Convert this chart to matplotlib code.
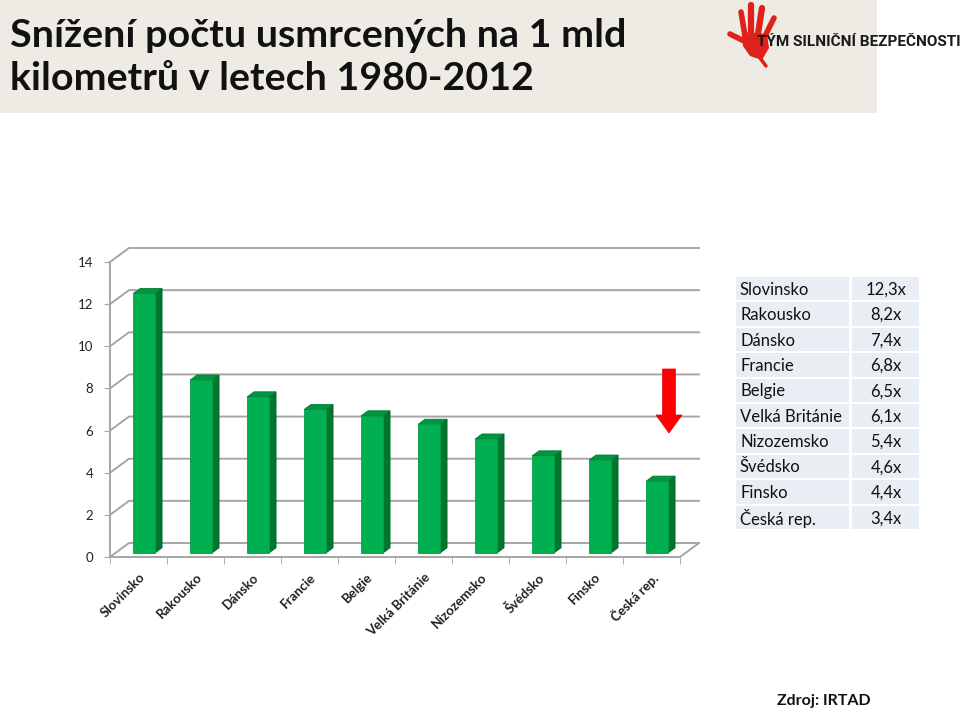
import matplotlib
matplotlib.use('Agg')
import matplotlib.pyplot as plt
from matplotlib.patches import Polygon, Rectangle, FancyArrow

plt.rcParams['font.family'] = ['Lato', 'DejaVu Sans']

countries = ['Slovinsko', 'Rakousko', 'Dánsko', 'Francie', 'Belgie',
             'Velká Británie', 'Nizozemsko', 'Švédsko', 'Finsko', 'Česká rep.']
values = [12.3, 8.2, 7.4, 6.8, 6.5, 6.1, 5.4, 4.6, 4.4, 3.4]
value_labels = ['12,3x', '8,2x', '7,4x', '6,8x', '6,5x', '6,1x', '5,4x', '4,6x', '4,4x', '3,4x']
y_ticks = [0, 2, 4, 6, 8, 10, 12, 14]

title = 'Snížení počtu usmrcených na 1 mld\nkilometrů v letech 1980-2012'
source = 'Zdroj: IRTAD'

W, H = 960, 712
fig = plt.figure(figsize=(W / 100, H / 100), dpi=100)

# main chart axes (front plane of the 3D box)
ax = fig.add_axes([110 / W, 1 - 557 / H, 570 / W, 295 / H])
ax.set_xlim(0, len(countries))
ax.set_ylim(0, 14)
for s in ax.spines.values():
    s.set_visible(False)

DX = 19 / 57      # depth offset in category units
DY = 14 / 21.07   # depth offset in value units
grid_c = '#A6A6A6'

# back wall gridlines + left wall diagonals
for v in y_ticks:
    ax.plot([0, DX, len(countries) + DX], [v, v + DY, v + DY], color=grid_c, lw=1.4,
            clip_on=False, zorder=1)
# floor front edge, right edge, left axis
ax.plot([0, len(countries), len(countries) + DX], [0, 0, DY], color=grid_c, lw=1.4,
        clip_on=False, zorder=1)
ax.plot([0, 0], [0, 14], color=grid_c, lw=1.4, clip_on=False, zorder=1)

# bars
d0 = 0.29
db = 0.37
bw = 0.386
front_c, side_c, top_c = '#00B050', '#00772E', '#00963F'
for i, v in enumerate(values):
    xl = i + 0.5 - bw / 2 + d0 * DX
    xr = xl + bw
    yb = d0 * DY
    yt = v + d0 * DY
    ox, oy = db * DX, db * DY
    ax.add_patch(Polygon([(xr, yb), (xr + ox, yb + oy), (xr + ox, yt + oy), (xr, yt)],
                         closed=True, fc=side_c, ec='#006428', lw=0.6, zorder=3, clip_on=False))
    ax.add_patch(Polygon([(xl, yt), (xr, yt), (xr + ox, yt + oy), (xl + ox, yt + oy)],
                         closed=True, fc=top_c, ec='#007A33', lw=0.6, zorder=3, clip_on=False))
    ax.add_patch(Rectangle((xl, yb), bw, v, fc=front_c, ec='#00A048', lw=0.6, zorder=4,
                           clip_on=False))

ax.set_yticks(y_ticks)
ax.set_yticklabels([str(t) for t in y_ticks], fontsize=9.5, color='#222222')
ax.tick_params(axis='y', length=4, color=grid_c, pad=8)
ax.set_xticks([i + 0.5 for i in range(len(countries))])
ax.set_xticklabels(countries, rotation=45, ha='right', va='top', rotation_mode='anchor',
                   fontsize=9.5, fontweight='bold', color='#222222')
ax.tick_params(axis='x', length=0, pad=10)
ax.set_xticks(range(len(countries) + 1), minor=True)
ax.tick_params(axis='x', which='minor', length=5, color=grid_c)
ax.set_facecolor('none')

# overlay in pixel coordinates
ov = fig.add_axes([0, 0, 1, 1])
ov.set_xlim(0, W)
ov.set_ylim(H, 0)
ov.axis('off')

ov.add_patch(Rectangle((0, 0), 877, 113, fc='#EDEBE4', ec='none'))
ov.text(10, 18, title, fontsize=28.4, fontweight='bold', va='top', ha='left',
        linespacing=1.26, color='#111111')

# logo: red hand + name
hand = '#E0201B'
for x0, y0, x1, y1, lw in [(745, 36, 741, 12, 4), (751, 34, 751, 5, 4.5),
                           (758, 34, 762, 8, 4.5), (764, 38, 774, 18, 4),
                           (746, 42, 730, 34, 4)]:
    ov.plot([x0, x1], [y0, y1], color=hand, lw=lw, solid_capstyle='round')
ov.add_patch(Polygon([(742, 32), (767, 34), (769, 48), (762, 60), (750, 56), (743, 46)],
                     closed=True, fc=hand, ec='none'))
ov.plot([760, 766], [58, 66], color=hand, lw=2.5, solid_capstyle='round')
ov.text(757, 42, 'TÝM SILNIČNÍ BEZPEČNOSTI', fontsize=11, fontweight='bold',
        va='center', ha='left', color='#1A1A1A', family=['Roboto', 'DejaVu Sans'])

# table
top, bottom = 276, 530
rh = (bottom - top) / len(countries)
for i, (c, lab) in enumerate(zip(countries, value_labels)):
    y = top + i * rh
    ov.add_patch(Rectangle((735, y), 115, rh, fc='#E9EDF4', ec='white', lw=1.5))
    ov.add_patch(Rectangle((851, y), 69, rh, fc='#E9EDF4', ec='white', lw=1.5))
    ov.text(740, y + rh / 2 + 1, c, fontsize=12, va='center', ha='left', color='#111111')
    ov.text(886, y + rh / 2 + 1, lab, fontsize=12, va='center', ha='center', color='#111111')

# red arrow
ov.add_patch(FancyArrow(669, 369, 0, 64, width=13, head_width=26, head_length=18,
                        length_includes_head=True, fc='#FF0000', ec='#E00000', lw=0.5,
                        zorder=5))

ov.text(824, 701, source, fontsize=11.5, fontweight='bold', ha='center', va='center',
        color='#111111')

fig.savefig('out.png', dpi=100)
